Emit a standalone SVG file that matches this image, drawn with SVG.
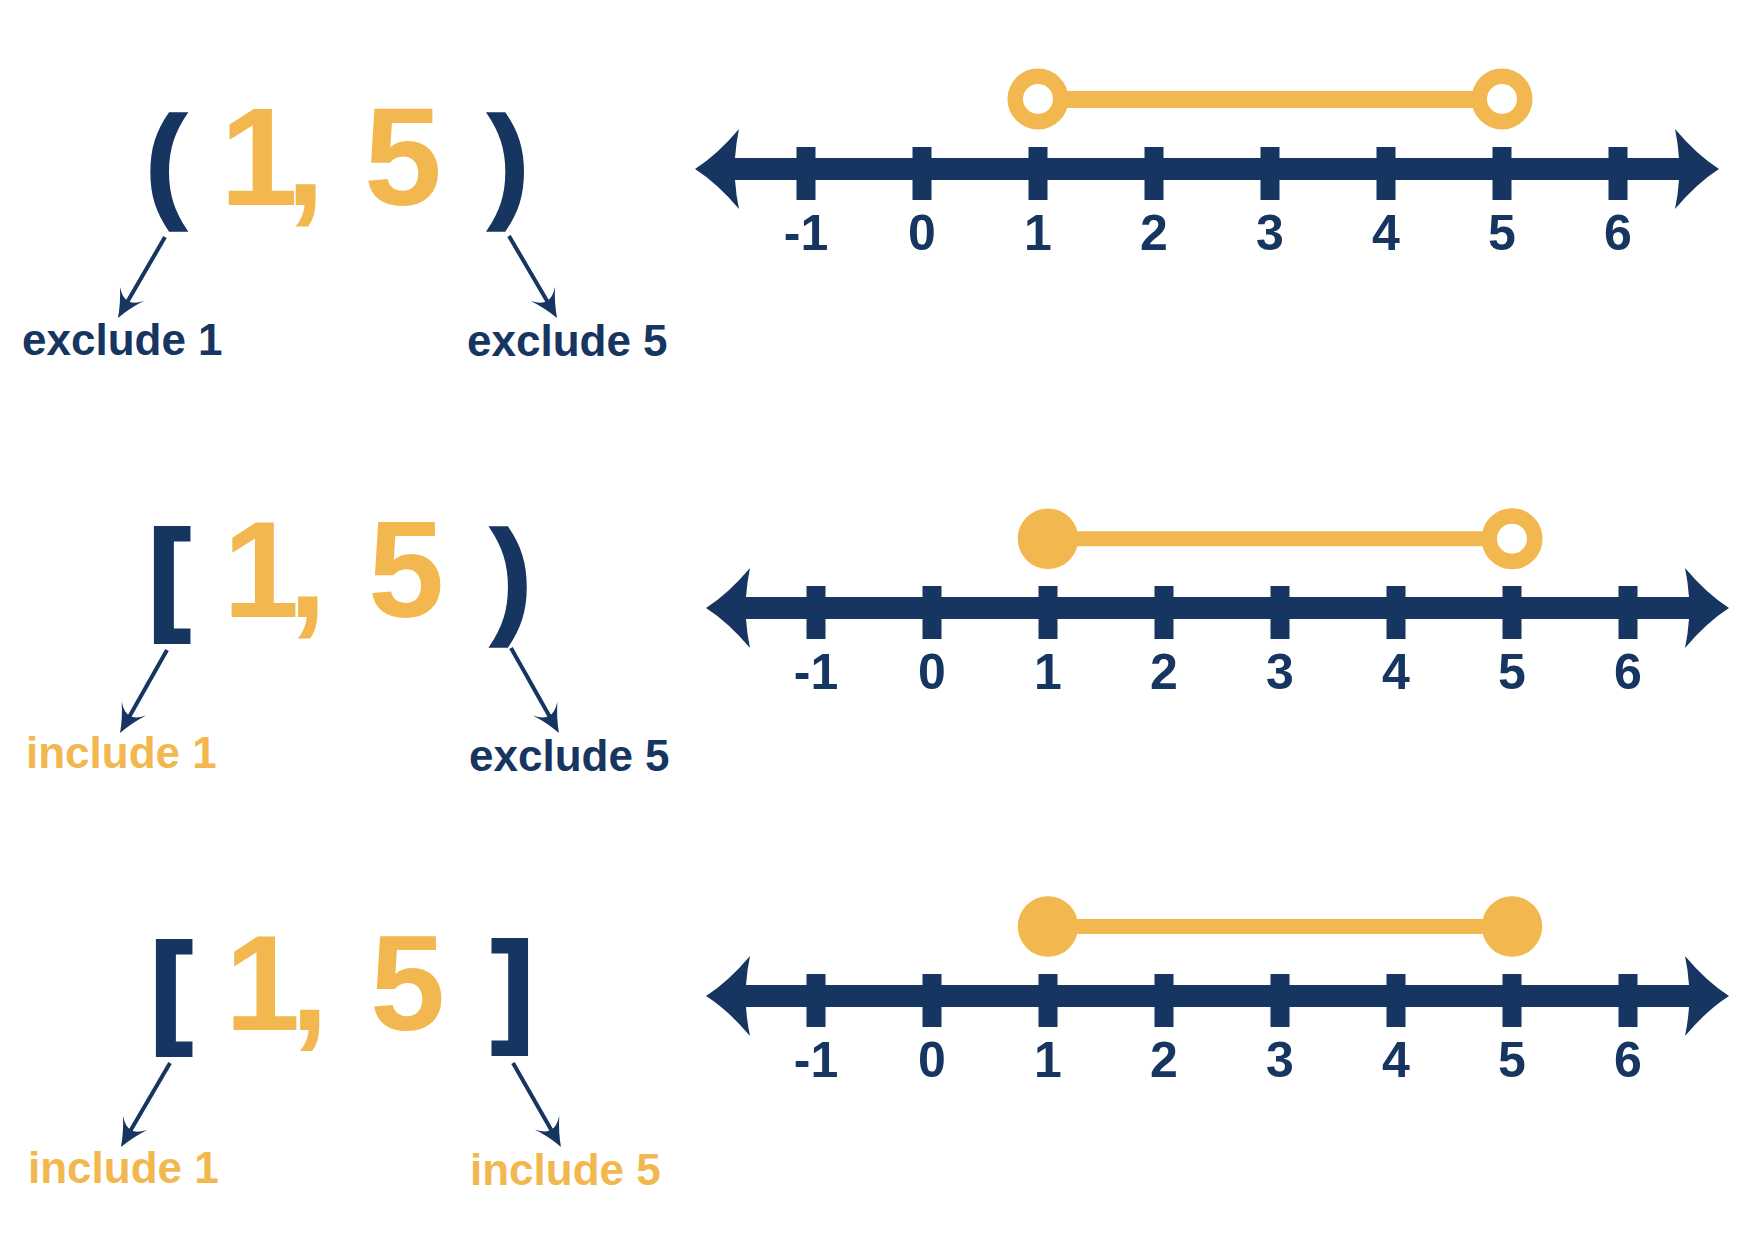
<svg xmlns="http://www.w3.org/2000/svg" width="1748" height="1248" viewBox="0 0 1748 1248">
<style>
.navy{fill:#163560}
.gold{fill:#F2B84F}
.big{font-family:"Liberation Sans",Arial,sans-serif;font-weight:bold;text-anchor:middle}
.br{fill:#163560;stroke:#163560;stroke-width:4;stroke-linejoin:miter}
.pr{fill:#163560;stroke:#163560;stroke-width:1.5}
.lbl{font-family:"Liberation Sans",Arial,sans-serif;font-weight:bold;font-size:44px}
.num{font-family:"Liberation Sans",Arial,sans-serif;font-weight:bold;font-size:50px;fill:#163560;text-anchor:middle}
.axis{stroke:#163560;stroke-width:22;fill:none}
.bar{stroke:#F2B84F;stroke-width:17;fill:none}
.open{fill:#fff;stroke:#F2B84F;stroke-width:15.5}
.conn{stroke:#163560;stroke-width:4;fill:none;marker-end:url(#ah)}
</style>
<defs>
<marker id="ah" markerUnits="userSpaceOnUse" viewBox="-24 -16 36 32" refX="0" refY="0" markerWidth="36" markerHeight="32" orient="auto">
<path d="M8,0 Q-6,-5 -20,-14 Q-11,-6 -12,0 Q-11,6 -20,14 Q-6,5 8,0 Z" fill="#163560"/>
</marker>
<path id="head" d="M0,0 Q-22,-14 -44,-40 Q-41,-26 -40,-11 L-40,11 Q-41,26 -44,40 Q-22,14 0,0 Z" fill="#163560"/>
<rect id="tick" x="-9.5" y="-22" width="19" height="53" fill="#163560"/>
</defs>

<!-- Row 1 -->
<g id="notation1">
<text class="big" y="212" font-size="140" x="166 210 259 305.5 340 403 460 508.5"><tspan class="pr" font-size="127" y="205">(</tspan><tspan class="gold"> 1, 5 </tspan><tspan class="pr" font-size="127" y="205">)</tspan></text>
</g>
<g id="label1a"><text class="lbl navy" x="22" y="355">exclude 1</text></g>
<g id="label1b"><text class="lbl navy" x="467" y="356">exclude 5</text></g>
<g id="numberline1">
<line class="axis" x1="720" y1="169" x2="1694" y2="169"/>
<use href="#head" transform="translate(1719,169)"/>
<use href="#head" transform="translate(695,169) scale(-1,1)"/>
<use href="#tick" x="806" y="169"/><use href="#tick" x="922" y="169"/><use href="#tick" x="1038" y="169"/><use href="#tick" x="1154" y="169"/><use href="#tick" x="1270" y="169"/><use href="#tick" x="1386" y="169"/><use href="#tick" x="1502" y="169"/><use href="#tick" x="1618" y="169"/>
<text class="num" y="250"><tspan x="806">-1</tspan><tspan x="922">0</tspan><tspan x="1038">1</tspan><tspan x="1154">2</tspan><tspan x="1270">3</tspan><tspan x="1386">4</tspan><tspan x="1502">5</tspan><tspan x="1618">6</tspan></text>
</g>
<g id="interval1">
<line class="bar" x1="1038" y1="99.5" x2="1502" y2="99.5"/>
<circle class="open" cx="1038" cy="99" r="22.75"/>
<circle class="open" cx="1502" cy="99" r="22.75"/>
</g>

<!-- Row 2 -->
<g id="notation2">
<text class="big" y="625" font-size="137" x="169.5 210 261 307.5 340 406 460 511"><tspan class="br" font-size="123" y="616.5">[</tspan><tspan class="gold"> 1, 5 </tspan><tspan class="pr" font-size="128" y="620">)</tspan></text>
</g>
<g id="label2a"><text class="lbl gold" x="26" y="768">include 1</text></g>
<g id="label2b"><text class="lbl navy" x="469" y="771">exclude 5</text></g>
<g id="numberline2">
<line class="axis" x1="731" y1="608" x2="1704" y2="608"/>
<use href="#head" transform="translate(1729,608)"/>
<use href="#head" transform="translate(706,608) scale(-1,1)"/>
<use href="#tick" x="816" y="608"/><use href="#tick" x="932" y="608"/><use href="#tick" x="1048" y="608"/><use href="#tick" x="1164" y="608"/><use href="#tick" x="1280" y="608"/><use href="#tick" x="1396" y="608"/><use href="#tick" x="1512" y="608"/><use href="#tick" x="1628" y="608"/>
<text class="num" y="689"><tspan x="816">-1</tspan><tspan x="932">0</tspan><tspan x="1048">1</tspan><tspan x="1164">2</tspan><tspan x="1280">3</tspan><tspan x="1396">4</tspan><tspan x="1512">5</tspan><tspan x="1628">6</tspan></text>
</g>
<g id="interval2">
<line class="bar" x1="1048" y1="538.7" x2="1512" y2="538.7" style="stroke-width:15"/>
<circle class="gold" cx="1048" cy="538.7" r="30.3"/>
<circle class="open" cx="1512" cy="538.7" r="22.75"/>
</g>

<!-- Row 3 -->
<g id="notation3">
<text class="big" y="1037.5" font-size="135" x="171.5 210 262.5 309.5 340 407.5 460 512.5"><tspan class="br" font-size="123" y="1029.5">[</tspan><tspan class="gold"> 1, 5 </tspan><tspan class="br" font-size="123" y="1029">]</tspan></text>
</g>
<g id="label3a"><text class="lbl gold" x="28" y="1183">include 1</text></g>
<g id="label3b"><text class="lbl gold" x="470" y="1185">include 5</text></g>
<g id="numberline3">
<line class="axis" x1="731" y1="996" x2="1704" y2="996"/>
<use href="#head" transform="translate(1729,996)"/>
<use href="#head" transform="translate(706,996) scale(-1,1)"/>
<use href="#tick" x="816" y="996"/><use href="#tick" x="932" y="996"/><use href="#tick" x="1048" y="996"/><use href="#tick" x="1164" y="996"/><use href="#tick" x="1280" y="996"/><use href="#tick" x="1396" y="996"/><use href="#tick" x="1512" y="996"/><use href="#tick" x="1628" y="996"/>
<text class="num" y="1077"><tspan x="816">-1</tspan><tspan x="932">0</tspan><tspan x="1048">1</tspan><tspan x="1164">2</tspan><tspan x="1280">3</tspan><tspan x="1396">4</tspan><tspan x="1512">5</tspan><tspan x="1628">6</tspan></text>
</g>
<g id="interval3">
<line class="bar" x1="1048" y1="926.5" x2="1512" y2="926.5" style="stroke-width:15"/>
<circle class="gold" cx="1048" cy="926.5" r="30.3"/>
<circle class="gold" cx="1512" cy="926.5" r="30.3"/>
</g>

<!-- Connectors -->
<g id="connectors">
<path class="conn" d="M165,237 L122,311.1"/>
<path class="conn" d="M509,236 L553,311.1"/>
<path class="conn" d="M167,650 L124,726"/>
<path class="conn" d="M511,648 L555,726"/>
<path class="conn" d="M170,1063 L125,1140.1"/>
<path class="conn" d="M513,1063 L557,1140"/>
</g>
</svg>
